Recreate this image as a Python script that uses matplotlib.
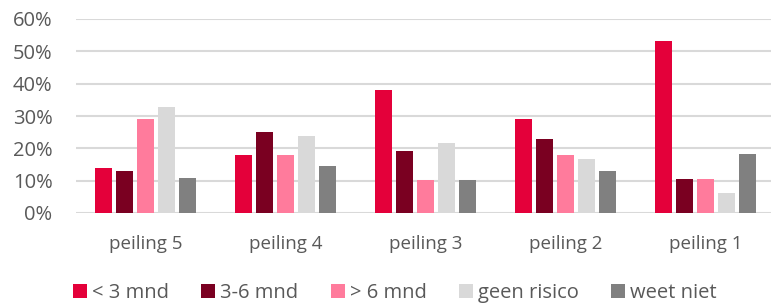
import matplotlib
matplotlib.use("Agg")
import matplotlib.pyplot as plt
import numpy as np

categories = ["peiling 5", "peiling 4", "peiling 3", "peiling 2", "peiling 1"]
series_names = ["< 3 mnd", "3-6 mnd", "> 6 mnd", "geen risico", "weet niet"]
lt3 = [14, 18, 38, 29.2, 53.2]
m3_6 = [13, 25, 19.1, 22.8, 10.4]
gt6 = [29, 18, 10.2, 17.8, 10.4]
geen = [32.8, 23.8, 21.8, 16.8, 6.2]
weet = [10.8, 14.4, 10.1, 12.9, 18.1]
yticks = [0, 10, 20, 30, 40, 50, 60]
colors = ["#E4003A", "#7A0021", "#FF7B9C", "#D9D9D9", "#808080"]

plt.rcParams['font.family'] = ['Open Sans', 'DejaVu Sans']
fig = plt.figure(figsize=(7.71, 3.04), dpi=100)
W, H = 771, 304
left, right, top, bottom = 75.5, 775.5, 19, 213
ax = fig.add_axes([left / W, 1 - bottom / H, (right - left) / W, (bottom - top) / H])

x = np.arange(len(categories))
data = [lt3, m3_6, gt6, geen, weet]
pitch = 0.149
width = 0.121
for i, (vals, c, name) in enumerate(zip(data, colors, series_names)):
    ax.bar(x + (i - 2) * pitch, vals, width, color=c, label=name, zorder=3)

ax.set_xlim(-0.5, len(categories) - 0.5)
ax.set_ylim(0, 60)
ax.set_yticks(yticks)
ax.set_yticklabels([f"{v}%" for v in yticks], color="#595959", fontsize=14.5)
ax.set_xticks(x)
ax.set_xticklabels(categories, color="#595959", fontsize=13.5)
ax.tick_params(axis='both', length=0)
ax.tick_params(axis='x', pad=16)
ax.tick_params(axis='y', pad=16.5)
ax.grid(axis='y', color="#D9D9D9", linewidth=1.5, zorder=0)
for s in ax.spines.values():
    s.set_visible(False)

leg = fig.legend(loc='center', bbox_to_anchor=(395 / W, 1 - 293 / H), ncol=5, frameon=False,
                 fontsize=14.5, handlelength=0.7, handleheight=0.7, handletextpad=0.25,
                 columnspacing=1.6, labelcolor="#595959")
fig.savefig("out.png", dpi=100)
